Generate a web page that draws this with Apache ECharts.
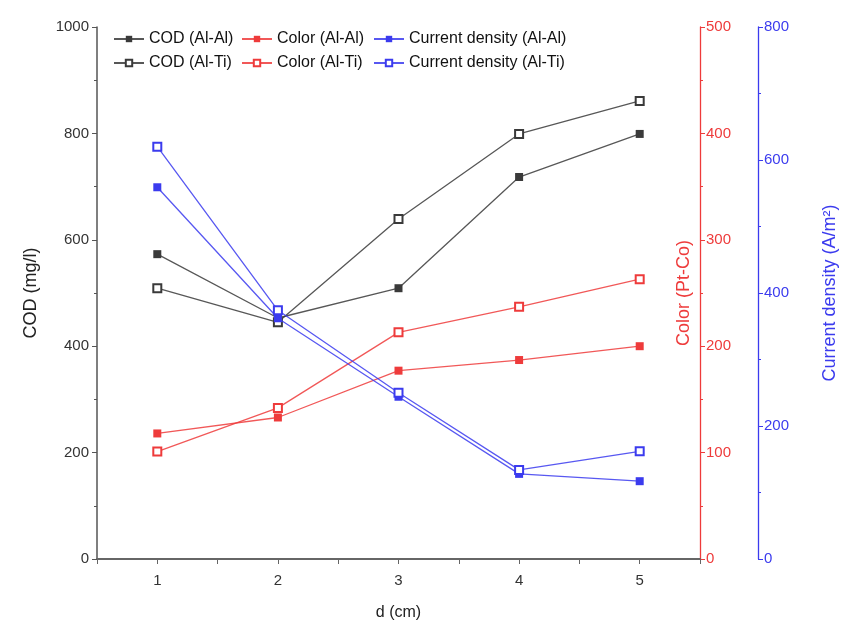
<!DOCTYPE html>
<html>
<head>
<meta charset="utf-8">
<script src="https://cdn.jsdelivr.net/npm/echarts@6/dist/echarts.min.js"></script>
<style>
  html, body { margin: 0; padding: 0; background: #fff; }
  #chart { width: 842px; height: 620px; }
</style>
</head>
<body>
<div id="chart"></div>
<script>
// d (cm)
var distances = [1, 2, 3, 4, 5];
// COD (mg/l)
var codAlAl = [573, 453, 509, 718, 799];
var codAlTi = [509, 445, 639, 799, 861];
// Color (Pt-Co)
var colorAlAl = [118, 133, 177, 187, 200];
var colorAlTi = [101, 142, 213, 237, 263];
// Current density (A/m2)
var cdAlAl = [559, 362, 244, 128, 117];
var cdAlTi = [620, 374, 250, 134, 162];

var black = '#3a3a3a';
var red = '#ee3b3b';
var blue = '#3b3bee';
var font = 'Liberation Sans, Arial, sans-serif';

function pts(vals) {
    return distances.map(function (d, i) { return [d, vals[i]]; });
}

function mkSeries(name, vals, axis, color, open) {
    return {
        name: name,
        type: 'line',
        yAxisIndex: axis,
        data: pts(vals),
        symbol: open ? 'emptyRect' : 'rect',
        symbolSize: 8,
        lineStyle: { color: color, width: 1.3, opacity: 0.85 },
        itemStyle: { color: color, borderWidth: 1.2 },
        emphasis: { disabled: true },
        z: axis === 2 ? 4 : 3
    };
}

var chart = echarts.init(document.getElementById('chart'));

var legendBase = {
    orient: 'vertical',
    top: 26,
    itemGap: 8,
    itemWidth: 30,
    itemHeight: 8,
    textStyle: { fontSize: 16, fontFamily: font, color: '#111' },
    selectedMode: false
};

chart.setOption({
    animation: false,
    backgroundColor: '#fff',
    grid: {
        left: 97, right: 142, top: 27, bottom: 61,
        containLabel: false, outerBoundsMode: 'none'
    },
    legend: [
        Object.assign({}, legendBase, { left: 108, data: ['COD (Al-Al)', 'COD (Al-Ti)'] }),
        Object.assign({}, legendBase, { left: 236, data: ['Color (Al-Al)', 'Color (Al-Ti)'] }),
        Object.assign({}, legendBase, { left: 368, data: ['Current density (Al-Al)', 'Current density (Al-Ti)'] })
    ],
    xAxis: {
        type: 'value',
        min: 0.5,
        max: 5.5,
        interval: 0.5,
        name: 'd (cm)',
        nameLocation: 'middle',
        nameGap: 46,
        nameMoveOverlap: false,
        nameTextStyle: { fontSize: 16, fontFamily: font, color: '#222' },
        axisLine: { lineStyle: { color: '#666', width: 2 } },
        axisTick: { length: 5, lineStyle: { color: '#666' } },
        splitLine: { show: false },
        axisLabel: {
            fontSize: 15, fontFamily: font, color: '#333', margin: 14,
            formatter: function (v) { return Number.isInteger(v) ? String(v) : ''; }
        }
    },
    yAxis: [
        {
            type: 'value', min: 0, max: 1000, interval: 200, position: 'left',
            name: 'COD (mg/l)', nameLocation: 'middle', nameGap: 57,
            nameMoveOverlap: false,
            nameTextStyle: { fontSize: 18, fontFamily: font, color: '#222' },
            axisLine: { show: true, lineStyle: { color: '#555', width: 1.5 } },
            axisTick: { show: true, length: 5, lineStyle: { color: '#555' } },
            minorTick: { show: true, splitNumber: 2, length: 3, lineStyle: { color: '#555' } },
            splitLine: { show: false },
            axisLabel: {
                fontSize: 15, fontFamily: font, color: '#333', margin: 8,
                formatter: function (v) { return String(v); }
            }
        },
        {
            type: 'value', min: 0, max: 500, interval: 100, position: 'right',
            name: 'Color (Pt-Co)', nameLocation: 'middle', nameGap: -25,
            nameMoveOverlap: false,
            nameRotate: 90,
            nameTextStyle: { fontSize: 18, fontFamily: font, color: red },
            axisLine: { show: true, lineStyle: { color: red, width: 1.3 } },
            axisTick: { show: true, length: 5, lineStyle: { color: red } },
            minorTick: { show: true, splitNumber: 2, length: 3, lineStyle: { color: red } },
            splitLine: { show: false },
            axisLabel: { fontSize: 15, fontFamily: font, color: red, margin: 6 }
        },
        {
            type: 'value', min: 0, max: 800, interval: 200, position: 'right', offset: 58,
            name: 'Current density (A/m²)', nameLocation: 'middle', nameGap: 63,
            nameMoveOverlap: false,
            nameRotate: 90,
            nameTextStyle: { fontSize: 18, fontFamily: font, color: blue },
            axisLine: { show: true, lineStyle: { color: blue, width: 1.3 } },
            axisTick: { show: true, length: 5, lineStyle: { color: blue } },
            minorTick: { show: true, splitNumber: 2, length: 3, lineStyle: { color: blue } },
            splitLine: { show: false },
            axisLabel: { fontSize: 15, fontFamily: font, color: blue, margin: 6 }
        }
    ],
    series: [
        mkSeries('COD (Al-Al)', codAlAl, 0, black, false),
        mkSeries('COD (Al-Ti)', codAlTi, 0, black, true),
        mkSeries('Color (Al-Al)', colorAlAl, 1, red, false),
        mkSeries('Color (Al-Ti)', colorAlTi, 1, red, true),
        mkSeries('Current density (Al-Al)', cdAlAl, 2, blue, false),
        mkSeries('Current density (Al-Ti)', cdAlTi, 2, blue, true)
    ]
});
</script>
</body>
</html>
